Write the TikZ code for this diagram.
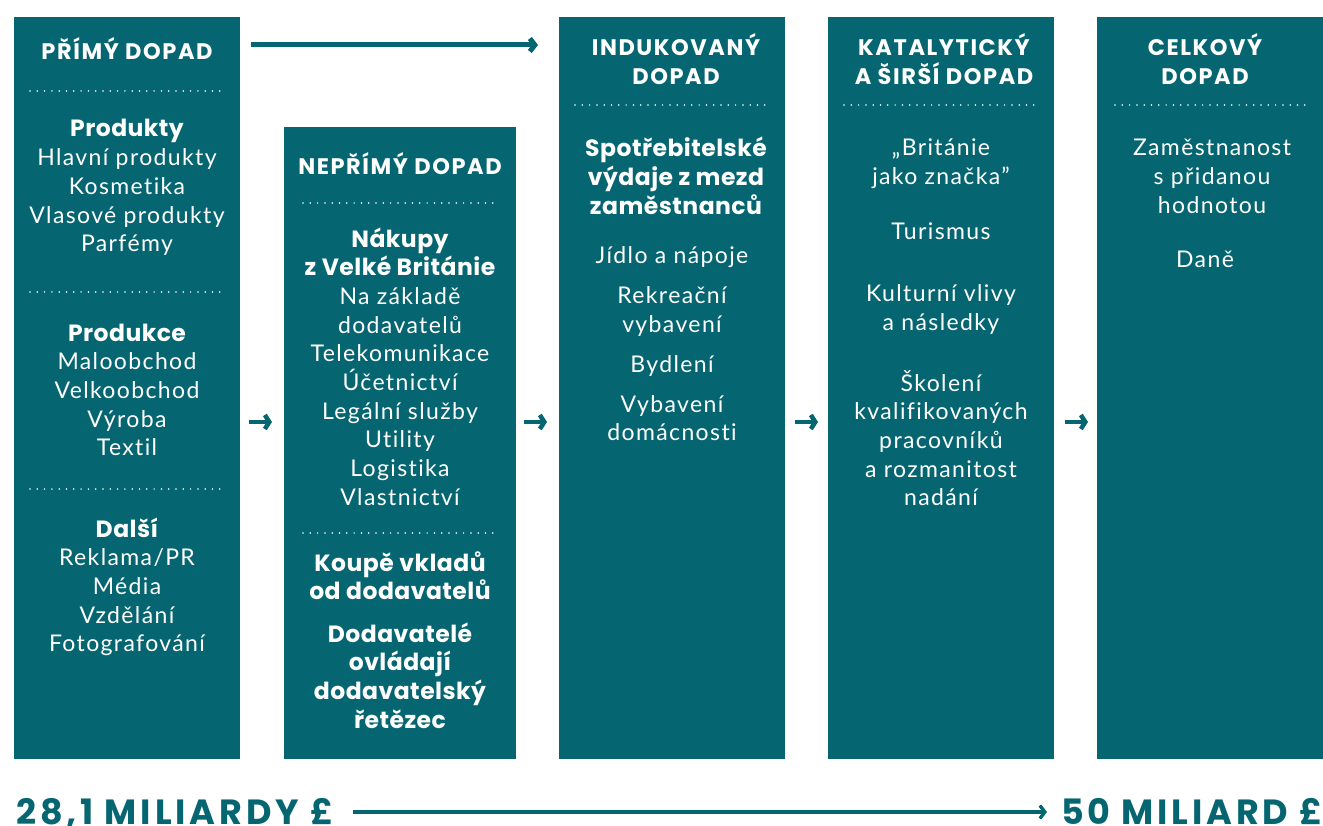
\documentclass[tikz,border=0pt]{standalone}
\usepackage{fontspec}
\setmainfont{Lato}[Ligatures=NoCommon]
\newfontfamily\hfont{Poppins}[BoldFont={* Bold}]
\usetikzlibrary{arrows.meta}
\definecolor{teal}{RGB}{5,102,114}
\newcommand{\hb}{\hfont\bfseries}
\newcommand{\subh}[1]{{\hfont\bfseries\fontsize{23.5}{28.7}\selectfont\addfontfeature{LetterSpace=2}#1}}
\tikzset{
  colbox/.style={fill=teal, draw=none},
  hdr/.style={text=white, inner sep=0pt, align=center, anchor=base, font=\hb\fontsize{22.5}{29}\selectfont\addfontfeature{LetterSpace=7}},
  bodytxt/.style={text=white, inner sep=0pt, align=center, anchor=base, font=\fontsize{23}{28.7}\selectfont\addfontfeature{LetterSpace=6}},
  dots/.style={white, line width=1.7pt, line cap=round, dash pattern=on 0pt off 7.3pt},
  arr/.style={teal, line width=4.5pt, -{Straight Barb[length=4.5pt,width=14pt]}},
  toparr/.style={teal, line width=5pt, -{Straight Barb[length=5pt,width=13pt]}},
  botarr/.style={teal, line width=3.4pt, -{Straight Barb[length=5pt,width=13pt]}},
  big/.style={text=teal, inner sep=0pt, font=\hb\fontsize{35}{36}\selectfont\addfontfeature{LetterSpace=11}}
}
\begin{document}
\begin{tikzpicture}[x=1pt,y=-1pt]
\useasboundingbox (0,0) rectangle (1323,826);
% boxes
\fill[colbox] (14,17) rectangle (240,759);
\fill[colbox] (284,127) rectangle (516,759);
\fill[colbox] (559,17) rectangle (785,759);
\fill[colbox] (828,17) rectangle (1054,759);
\fill[colbox] (1097,17) rectangle (1323,759);
% column 1 (anchor=base is the last line's baseline)
\node[hdr] (h1) at (127,60) {PŘÍMÝ DOPAD};
\draw[dots] (30,91) -- (224,91);
\node[bodytxt] (b1a) at (127,251.8) {\subh{Produkty}\\Hlavní produkty\\Kosmetika\\Vlasové produkty\\Parfémy};
\draw[dots] (30,292) -- (224,292);
\node[bodytxt] (b1b) at (127,455.8) {\subh{Produkce}\\Maloobchod\\Velkoobchod\\Výroba\\Textil};
\draw[dots] (30,489) -- (224,489);
\node[bodytxt] (b1c) at (127,651.8) {\subh{Další}\\Reklama/PR\\Média\\Vzdělání\\Fotografování};
% column 2
\node[hdr] (h2) at (400,175) {NEPŘÍMÝ DOPAD};
\draw[dots] (303,203) -- (497,203);
\node[bodytxt] (b2a) at (400,505.3) {\subh{Nákupy}\\\subh{z Velké Británie}\\Na základě\\dodavatelů\\Telekomunikace\\Účetnictví\\Legální služby\\Utility\\Logistika\\Vlastnictví};
\draw[dots] (303,533) -- (497,533);
\node[bodytxt] (b2b) at (400,599.7) {\subh{Koupě vkladů}\\\subh{od dodavatelů}};
\node[bodytxt] (b2c) at (400,728.1) {\subh{Dodavatelé}\\\subh{ovládají}\\\subh{dodavatelský}\\\subh{řetězec}};
% column 3
\node[hdr] (h3) at (676,85) {INDUKOVANÝ\\DOPAD};
\draw[dots] (575,105) -- (769,105);
\node[bodytxt] (b3a) at (676,214.4) {\subh{Spotřebitelské}\\\subh{výdaje z mezd}\\\subh{zaměstnanců}};
\node[bodytxt] (b3b) at (672,264) {Jídlo a nápoje};
\node[bodytxt] (b3c) at (672,332.7) {Rekreační\\vybavení};
\node[bodytxt] (b3d) at (672,372) {Bydlení};
\node[bodytxt] (b3e) at (672,440.7) {Vybavení\\domácnosti};
% column 4
\node[hdr] (h4) at (944,85) {KATALYTICKÝ\\A ŠIRŠÍ DOPAD};
\draw[dots] (844,105) -- (1038,105);
\node[bodytxt] (b4a) at (941,184.7) {„Británie\\jako značka”};
\node[bodytxt] (b4b) at (941,240) {Turismus};
\node[bodytxt] (b4c) at (941,330.7) {Kulturní vlivy\\a následky};
\node[bodytxt] (b4d) at (941,505.8) {Školení\\kvalifikovaných\\pracovníků\\a rozmanitost\\nadání};
% column 5
\node[hdr] (h5) at (1205,85) {CELKOVÝ\\DOPAD};
\draw[dots] (1115,105) -- (1309,105);
\node[bodytxt] (b5a) at (1212,213.4) {Zaměstnanost\\s přidanou\\hodnotou};
\node[bodytxt] (b5b) at (1205,268) {Daně};
% arrows
\coordinate (ta1) at (251,45);
\coordinate (ta2) at (538,45);
\draw[toparr] (ta1) -- (ta2);
\foreach \i/\x in {1/249,2/524,3/795,4/1065}{
  \coordinate (sa\i) at (\x,422);
  \coordinate (se\i) at (\x+23,422);
  \draw[arr] (sa\i) -- (se\i);
}
% bottom
\node[big, anchor=base west] (left) at (16,824.5) {28,1 MILIARDY £};
\node[big, anchor=base east] (right) at (1323,824.5) {50 MILIARD £};
\coordinate (ba1) at (353,812);
\coordinate (ba2) at (1047,812);
\draw[botarr] (ba1) -- (ba2);
\end{tikzpicture}
\end{document}
